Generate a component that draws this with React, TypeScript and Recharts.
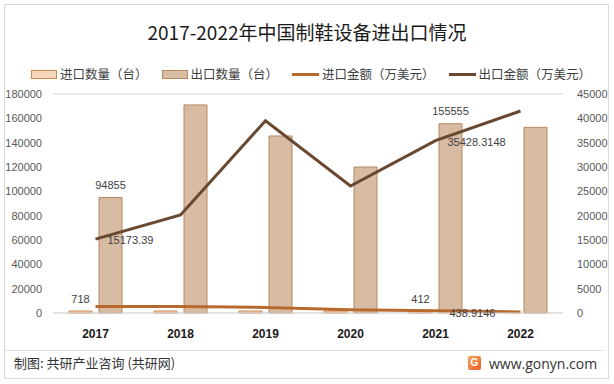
import React from "react";
import {
  Bar,
  CartesianGrid,
  ComposedChart,
  LabelList,
  Line,
  XAxis,
  YAxis,
} from "recharts";

const years = ["2017", "2018", "2019", "2020", "2021", "2022"];
// 数量（台）
const importQty: (number | null)[] = [718, 690, 640, 560, 412, null];
const exportQty = [94855, 171000, 145500, 120000, 155555, 152600];
// 金额（万美元）
const importAmt = [1350, 1330, 1150, 650, 438.9146, 220];
const exportAmt = [15173.39, 20150, 39500, 26100, 35428.3148, 41500];

// which points carry a data label
const importQtyLabels = [0, 4];
const exportQtyLabels = [0, 4];
const importAmtLabels = [4];
const exportAmtLabels = [0, 4];

const leftTicks = [0, 20000, 40000, 60000, 80000, 100000, 120000, 140000, 160000, 180000];
const rightTicks = [0, 5000, 10000, 15000, 20000, 25000, 30000, 35000, 40000, 45000];

const data = years.map((year, i) => ({
  year,
  importQty: importQty[i],
  exportQty: exportQty[i],
  importAmt: importAmt[i],
  exportAmt: exportAmt[i],
}));

const COLORS = {
  importBar: "#F5D5BC",
  importBarStroke: "#C98A55",
  exportBar: "#D7BBA3",
  exportBarStroke: "#B8875F",
  importLine: "#B8692E",
  exportLine: "#684830",
};

const numFont = "'Liberation Sans', Arial, sans-serif";
const cjkFont = "'Noto Sans CJK SC', 'Noto Sans', sans-serif";

const barLabel = (labels: number[]) => (p: any) => {
  if (!labels.includes(p.index)) return null;
  return (
    <text
      x={p.x + p.width / 2}
      y={p.y - 12.5}
      textAnchor="middle"
      dominantBaseline="central"
      fontSize={11}
      fontFamily={numFont}
      fill="#404040"
    >
      {p.value}
    </text>
  );
};

const lineLabel = (labels: number[], dx: number, dy: number) => (p: any) => {
  if (!labels.includes(p.index)) return null;
  return (
    <text
      x={p.x + dx}
      y={p.y + dy}
      textAnchor="start"
      dominantBaseline="central"
      fontSize={11}
      fontFamily={numFont}
      fill="#404040"
    >
      {p.value}
    </text>
  );
};

const legendItems = [
  { name: "进口数量（台）", type: "bar", fill: COLORS.importBar, stroke: COLORS.importBarStroke },
  { name: "出口数量（台）", type: "bar", fill: COLORS.exportBar, stroke: COLORS.exportBarStroke },
  { name: "进口金额（万美元）", type: "line", stroke: COLORS.importLine },
  { name: "出口金额（万美元）", type: "line", stroke: COLORS.exportLine },
];

export default function App() {
  return (
    <div
      style={{
        position: "absolute",
        left: 0,
        top: 0,
        width: 614,
        height: 384,
        background: "#fff",
        fontFamily: cjkFont,
      }}
    >
      <div
        style={{
          position: "absolute",
          left: 4,
          top: 4,
          width: 605,
          height: 375,
          border: "1px solid #d9d9d9",
          boxSizing: "border-box",
        }}
      />
      <div
        style={{
          position: "absolute",
          left: 0,
          top: 18,
          width: 614,
          textAlign: "center",
          fontSize: 19,
          lineHeight: "27px",
          color: "#1a1a1a",
        }}
      >
        2017-2022年中国制鞋设备进出口情况
      </div>

      <div
        style={{
          position: "absolute",
          left: 31,
          top: 66,
          height: 16,
          display: "flex",
          alignItems: "center",
          fontSize: 12.5,
          color: "#404040",
        }}
      >
        {legendItems.map((item) => (
          <div key={item.name} style={{ display: "flex", alignItems: "center", marginRight: 14 }}>
            {item.type === "bar" ? (
              <span
                style={{
                  display: "inline-block",
                  width: 24,
                  height: 7,
                  background: item.fill,
                  border: `1px solid ${item.stroke}`,
                }}
              />
            ) : (
              <span
                style={{
                  display: "inline-block",
                  width: 27,
                  height: 3,
                  background: item.stroke,
                }}
              />
            )}
            <span style={{ marginLeft: 3, lineHeight: "16px" }}>{item.name}</span>
          </div>
        ))}
      </div>

      <ComposedChart
        width={614}
        height={384}
        data={data}
        margin={{ top: 94, right: 0, bottom: 41, left: 0 }}
        barSize={23}
        barGap={7}
        style={{ position: "absolute", left: 0, top: 0 }}
      >
        <CartesianGrid vertical={false} stroke="#d9d9d9" />
        <XAxis
          dataKey="year"
          height={30}
          axisLine={{ stroke: "#d9d9d9" }}
          tickLine={false}
          tickSize={6}
          tickMargin={10}
          tick={{ fontSize: 12, fontWeight: "bold", fill: "#1a1a1a", fontFamily: numFont }}
        />
        <YAxis
          yAxisId="left"
          width={53}
          domain={[0, 180000]}
          ticks={leftTicks}
          axisLine={false}
          tickLine={false}
          tickSize={6}
          tickMargin={5}
          tick={{ fontSize: 11, fill: "#595959", fontFamily: numFont }}
        />
        <YAxis
          yAxisId="right"
          orientation="right"
          width={51}
          domain={[0, 45000]}
          ticks={rightTicks}
          axisLine={false}
          tickLine={false}
          tickSize={6}
          tickMargin={8}
          tick={{ fontSize: 11, fill: "#595959", fontFamily: numFont, textAnchor: "start" }}
        />
        <Bar
          yAxisId="left"
          dataKey="importQty"
          fill={COLORS.importBar}
          stroke={COLORS.importBarStroke}
          strokeWidth={1}
          isAnimationActive={false}
          minPointSize={2}
        >
          <LabelList dataKey="importQty" content={barLabel(importQtyLabels)} />
        </Bar>
        <Bar
          yAxisId="left"
          dataKey="exportQty"
          fill={COLORS.exportBar}
          stroke={COLORS.exportBarStroke}
          strokeWidth={1}
          isAnimationActive={false}
        >
          <LabelList dataKey="exportQty" content={barLabel(exportQtyLabels)} />
        </Bar>
        <Line
          yAxisId="right"
          type="linear"
          dataKey="importAmt"
          stroke={COLORS.importLine}
          strokeWidth={3}
          dot={false}
          activeDot={false}
          isAnimationActive={false}
        >
          <LabelList dataKey="importAmt" content={lineLabel(importAmtLabels, 14, 2)} />
        </Line>
        <Line
          yAxisId="right"
          type="linear"
          dataKey="exportAmt"
          stroke={COLORS.exportLine}
          strokeWidth={3}
          dot={false}
          activeDot={false}
          isAnimationActive={false}
        >
          <LabelList dataKey="exportAmt" content={lineLabel(exportAmtLabels, 12, 1)} />
        </Line>
      </ComposedChart>

      <div
        style={{
          position: "absolute",
          left: 4,
          top: 350,
          width: 600,
          height: 1,
          background: "#e3e3e3",
        }}
      />
      <div
        style={{
          position: "absolute",
          left: 14,
          top: 354,
          fontSize: 13,
          lineHeight: "18px",
          color: "#333",
        }}
      >
        制图: 共研产业咨询 (共研网)
      </div>
      <div
        style={{
          position: "absolute",
          left: 468,
          top: 354,
          display: "flex",
          alignItems: "center",
          height: 18,
        }}
      >
        <span
          style={{
            display: "inline-block",
            width: 13,
            height: 14,
            borderRadius: 2,
            background: "linear-gradient(135deg, #f7a35c, #e8602c)",
            color: "#fff",
            fontSize: 10,
            fontWeight: "bold",
            lineHeight: "14px",
            textAlign: "center",
            fontFamily: numFont,
          }}
        >
          G
        </span>
        <span
          style={{
            marginLeft: 8,
            fontSize: 14,
            color: "#333",
            fontFamily: "'Open Sans', 'Liberation Sans', sans-serif",
          }}
        >
          www.gonyn.com
        </span>
      </div>
    </div>
  );
}
